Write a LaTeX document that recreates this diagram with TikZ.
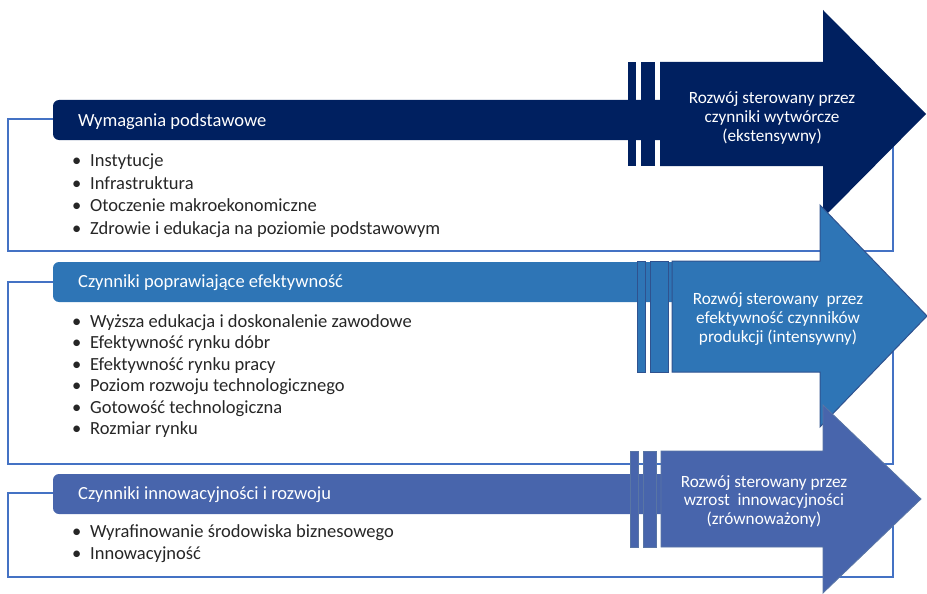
\documentclass[tikz,border=0pt]{standalone}
\usepackage{fontspec}
\setmainfont{Carlito}
\definecolor{cNavy}{RGB}{0,32,96}
\definecolor{cMid}{RGB}{46,117,182}
\definecolor{cInno}{RGB}{72,101,172}
\definecolor{cEdge}{RGB}{47,82,143}
\definecolor{cFrame}{RGB}{68,114,196}

\begin{document}
\begin{tikzpicture}[x=1pt,y=-1pt,
  frame/.style={draw=cFrame,line width=1.3pt},
  headtext/.style={anchor=base west,inner sep=0pt,text=white,font=\fontsize{18.5}{21}\selectfont},
  item/.style={anchor=base west,inner sep=0pt,text=black!85,font=\fontsize{18.5}{21}\selectfont},
  lbl/.style={anchor=base,inner sep=0pt,text=white,font=\fontsize{17.2}{19}\selectfont}
]
\useasboundingbox (0,0) rectangle (927,594);

% outline frames behind the arrows
\draw[frame] (8,119) rectangle (893,251);
\draw[frame] (8,282) rectangle (893,464);
\draw[frame] (8,493) rectangle (893,577);

% ---- arrow 1: basic requirements ----
\fill[cNavy] (668,100) [rounded corners=6pt] -- (53,100) -- (53,140) [sharp corners] -- (668,140) -- cycle;
\fill[cNavy] (628,62) rectangle (636,166);
\fill[cNavy] (641,62) rectangle (655,166);
\fill[cNavy] (660,62) -- (823,62) -- (823,10) -- (926,114) -- (823,218) -- (823,166) -- (660,166) -- cycle;

% ---- arrow 2: efficiency enhancers ----
\fill[cMid] (678,262) [rounded corners=6pt] -- (53,262) -- (53,302) [sharp corners] -- (678,302) -- cycle;
\filldraw[fill=cMid,draw=cEdge,line width=1pt] (637,261) rectangle (645.5,372);
\filldraw[fill=cMid,draw=cEdge,line width=1pt] (650,261) rectangle (668,372);
\filldraw[fill=cMid,draw=cEdge,line width=1pt] (672,261) -- (820,261) -- (820,205) -- (927,316) -- (820,427) -- (820,372) -- (672,372) -- cycle;

% ---- arrow 3: innovation factors ----
\fill[cInno] (666,474) [rounded corners=6pt] -- (53,474) -- (53,514) [sharp corners] -- (666,514) -- cycle;
\filldraw[fill=cInno,draw=cEdge!80,line width=0.8pt] (630,451) rectangle (638,547);
\filldraw[fill=cInno,draw=cEdge!80,line width=0.8pt] (643,451) rectangle (656,547);
\filldraw[fill=cInno,draw=cEdge!80,line width=0.8pt] (661,451) -- (823,451) -- (823,405) -- (921,499) -- (823,593) -- (823,547) -- (661,547) -- cycle;

% header captions
\node[headtext] (h1) at (78,126) {Wymagania podstawowe};
\node[headtext] (h2) at (78,287.5) {Czynniki poprawiające efektywność};
\node[headtext] (h3) at (78,499) {Czynniki innowacyjności i rozwoju};

% bullet lists
\newcommand{\bul}[1]{\makebox[18pt][l]{•}#1}
\node[item] (a1) at (72,166.5) {\bul{Instytucje}};
\node[item] (a2) at (72,189) {\bul{Infrastruktura}};
\node[item] (a3) at (72,211.5) {\bul{Otoczenie makroekonomiczne}};
\node[item] (a4) at (72,234) {\bul{Zdrowie i edukacja na poziomie podstawowym}};

\node[item] (b1) at (72,327) {\bul{Wyższa edukacja i doskonalenie zawodowe}};
\node[item] (b2) at (72,348.5) {\bul{Efektywność rynku dóbr}};
\node[item] (b3) at (72,370) {\bul{Efektywność rynku pracy}};
\node[item] (b4) at (72,391.5) {\bul{Poziom rozwoju technologicznego}};
\node[item] (b5) at (72,413) {\bul{Gotowość technologiczna}};
\node[item] (b6) at (72,434.5) {\bul{Rozmiar rynku}};

\node[item] (c1) at (72,537.5) {\bul{Wyrafinowanie środowiska biznesowego}};
\node[item] (c2) at (72,559.5) {\bul{Innowacyjność}};

% arrow captions
\node[lbl] (r1a) at (772,103.5) {Rozwój sterowany przez};
\node[lbl] (r1b) at (772,122.5) {czynniki wytwórcze};
\node[lbl] (r1c) at (772,141.7) {(ekstensywny)};

\node[lbl] (r2a) at (778,304) {Rozwój sterowany\ \ przez};
\node[lbl] (r2b) at (778,323) {efektywność czynników};
\node[lbl] (r2c) at (778,342) {produkcji (intensywny)};

\node[lbl] (r3a) at (764,487) {Rozwój sterowany przez};
\node[lbl] (r3b) at (764,505.5) {wzrost\ \ innowacyjności};
\node[lbl] (r3c) at (764,524) {(zrównoważony)};
\end{tikzpicture}
\end{document}
